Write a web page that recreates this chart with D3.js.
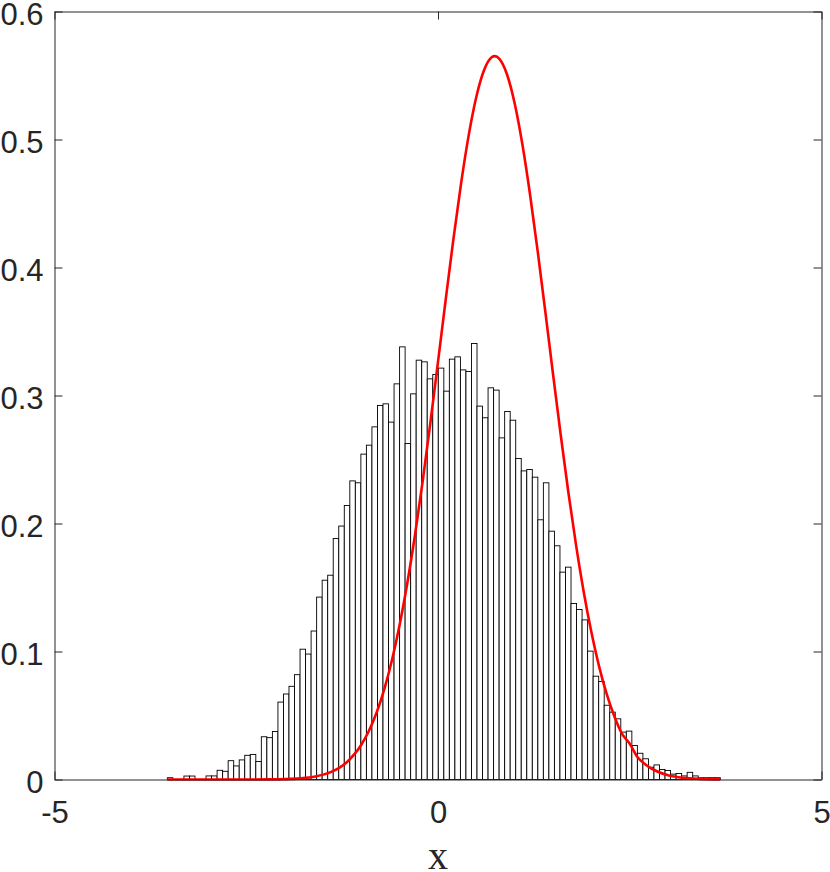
<!DOCTYPE html>
<html>
<head>
<meta charset="utf-8">
<script src="https://cdn.jsdelivr.net/npm/d3@7"></script>
<style>
  html, body { margin: 0; padding: 0; background: #fff; }
  svg { display: block; }
</style>
</head>
<body>
<svg id="chart" width="830" height="872"></svg>
<script>
// ---- data ----
const binStart = -3.529;
const binWidth = 0.0721;
const density = [
  0.0014, 0, 0, 0.0027, 0.0027, 0, 0, 0.0028, 0.0028, 0.0072,
  0.0064, 0.0147, 0.0106, 0.0153, 0.0189, 0.0196, 0.0141, 0.0334, 0.0327, 0.0375,
  0.0605, 0.0668, 0.0728, 0.0819, 0.1018, 0.0980, 0.1160, 0.1425, 0.1557, 0.1596,
  0.1883, 0.1980, 0.2141, 0.2333, 0.2318, 0.2542, 0.2612, 0.2755, 0.2922, 0.2935,
  0.2792, 0.3091, 0.3380, 0.2625, 0.3013, 0.3276, 0.3263, 0.3130, 0.3164, 0.3214,
  0.3034, 0.3284, 0.3302, 0.3200, 0.3188, 0.3406, 0.2917, 0.2826, 0.3060, 0.3042,
  0.2669, 0.2875, 0.2807, 0.2508, 0.2411, 0.2422, 0.2362, 0.2029, 0.2318, 0.1940,
  0.1826, 0.1620, 0.1659, 0.1375, 0.1328, 0.1247, 0.1003, 0.0807, 0.0766, 0.0580,
  0.0526, 0.0474, 0.0370, 0.0378, 0.0266, 0.0205, 0.0162, 0.0096, 0.0114, 0.0078,
  0.0070, 0.0042, 0.0047, 0.0028, 0.0056, 0.0028, 0.0014, 0.0014, 0.0014, 0.0014
];
const curveX = [
  -3.529, -3.0, -2.5, -2.2, -2.0, -1.8, -1.6, -1.4, -1.2, -1.0,
  -0.9, -0.8, -0.7, -0.6, -0.5, -0.4, -0.3, -0.2, -0.1, 0.0,
  0.1, 0.2, 0.3, 0.4, 0.5, 0.6, 0.7, 0.74, 0.8, 0.9,
  1.0, 1.1, 1.2, 1.3, 1.4, 1.5, 1.6, 1.7, 1.8, 1.9,
  2.0, 2.1, 2.2, 2.3, 2.4, 2.5, 2.6, 2.7, 2.8, 3.0,
  3.2, 3.4, 3.68
];
const curveY = [
  0, 0, 0.00002, 0.0001, 0.0003, 0.00088, 0.00233, 0.00572, 0.01296, 0.02712,
  0.03807, 0.05237, 0.07061, 0.09332, 0.12088, 0.15347, 0.19097, 0.23292, 0.27847, 0.32628,
  0.37472, 0.42180, 0.46537, 0.50324, 0.53338, 0.55410, 0.56420, 0.5651, 0.56307, 0.55077,
  0.52806, 0.49622, 0.45704, 0.41260, 0.36507, 0.31661, 0.26913, 0.22422, 0.18310, 0.14655,
  0.11497, 0.08840, 0.06662, 0.04921, 0.03563, 0.02794, 0.01758, 0.01199, 0.00801, 0.00337,
  0.00131, 0.00047, 0.0001
];
const xTicks = [-5, 0, 5];
const yTicks = [0, 0.1, 0.2, 0.3, 0.4, 0.5, 0.6];
const xLabel = "x";

// ---- layout ----
const mL = 54.5, mR = 821.5, mT = 11.5, mB = 779.5;
const axisColor = "#262626";
const tickLen = 8;

const svg = d3.select("#chart");
svg.append("rect").attr("width", 830).attr("height", 872).attr("fill", "#fff");

const x = d3.scaleLinear().domain([-5, 5]).range([mL, mR]);
const y = d3.scaleLinear().domain([0, 0.6]).range([mB, mT]);

// histogram bars
const bins = density.map((d, i) => ({ x0: binStart + i * binWidth, x1: binStart + (i + 1) * binWidth, v: d }));
svg.append("g")
  .selectAll("rect")
  .data(bins)
  .join("rect")
  .attr("x", d => x(d.x0))
  .attr("y", d => y(d.v))
  .attr("width", d => x(d.x1) - x(d.x0))
  .attr("height", d => y(0) - y(d.v))
  .attr("fill", "#fff")
  .attr("stroke", "#000")
  .attr("stroke-width", 0.9);

// red curve
const pts = curveX.map((v, i) => [v, curveY[i]]);
svg.append("path")
  .datum(pts)
  .attr("fill", "none")
  .attr("stroke", "#ff0000")
  .attr("stroke-width", 2.6)
  .attr("stroke-linejoin", "round")
  .attr("d", d3.line().x(d => x(d[0])).y(d => y(d[1])).curve(d3.curveMonotoneX));

// axes (box style with inward ticks)
const fontFam = "'Liberation Sans', Arial, Helvetica, sans-serif";
const axBottom = d3.axisBottom(x).tickValues(xTicks).tickSizeInner(-tickLen).tickSizeOuter(0).tickPadding(21).tickFormat(d => String(d));
const axTop = d3.axisTop(x).tickValues(xTicks).tickSizeInner(-tickLen).tickSizeOuter(0).tickFormat("");
const axLeft = d3.axisLeft(y).tickValues(yTicks).tickSizeInner(-tickLen).tickSizeOuter(0).tickPadding(11).tickFormat(d => d === 0 ? "0" : d3.format(".1f")(d));
const axRight = d3.axisRight(y).tickValues(yTicks).tickSizeInner(-tickLen).tickSizeOuter(0).tickFormat("");

function style(g) {
  g.select(".domain").attr("stroke", axisColor).attr("stroke-width", 1);
  g.selectAll(".tick line").attr("stroke", axisColor).attr("stroke-width", 1);
  g.selectAll(".tick text").attr("fill", axisColor).attr("font-family", fontFam).attr("font-size", 31);
}
svg.append("g").attr("transform", `translate(0,${mB})`).call(axBottom).call(style)
  .selectAll(".tick text").attr("dy", "0.71em");
svg.append("g").attr("transform", `translate(0,${mT})`).call(axTop).call(style);
svg.append("g").attr("transform", `translate(${mL},0)`).call(axLeft).call(style)
  .selectAll(".tick text").attr("dy", "0.43em");
svg.append("g").attr("transform", `translate(${mR},0)`).call(axRight).call(style);

// x axis label
svg.append("text")
  .attr("x", (mL + mR) / 2)
  .attr("y", 869)
  .attr("text-anchor", "middle")
  .attr("font-family", "'Liberation Serif', 'Times New Roman', serif")
  .attr("font-size", 40)
  .attr("fill", axisColor)
  .text(xLabel);
</script>
</body>
</html>
